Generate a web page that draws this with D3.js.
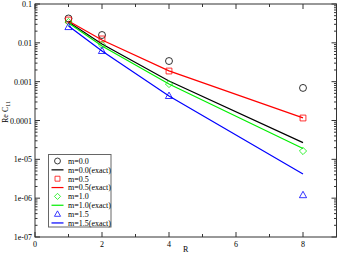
<!DOCTYPE html>
<html><head><meta charset="utf-8">
<script src="https://cdn.jsdelivr.net/npm/d3@7"></script>
<style>body{margin:0;background:#fff;}svg{display:block;}</style>
</head><body>
<svg id="c" width="338" height="255"></svg>
<script>
const R = [1, 2, 4, 8];
const sym_m00 = [0.0424, 0.0159, 0.0034, 0.00069];
const sym_m05 = [0.0387, 0.0126, 0.00188, 0.000116];
const sym_m10 = [0.0344, 0.0088, 0.00087, 1.64e-5];
const sym_m15 = [0.0256, 0.0062, 0.00043, 1.2e-6];
const exact_m00 = [0.0344, 0.0093, 0.00104, 2.7e-5];
const exact_m05 = [0.0365, 0.0118, 0.0019, 1.17e-4];
const exact_m10 = [0.0324, 0.0083, 0.00087, 1.9e-5];
const exact_m15 = [0.0271, 0.0062, 0.00043, 4.2e-6];
const xTicks = [0, 2, 4, 6, 8];
const yTicks = [0.1, 0.01, 0.001, 0.0001, 1e-5, 1e-6, 1e-7];
const yTickLabels = ["0.1", "0.01", "0.001", "0.0001", "1e-05", "1e-06", "1e-07"];
const legendLabels = ["m=0.0", "m=0.0(exact)", "m=0.5", "m=0.5(exact)", "m=1.0", "m=1.0(exact)", "m=1.5", "m=1.5(exact)"];
const colors = ["#000000", "#ff0000", "#00ee00", "#0000ff"];
const shapes = ["circle", "square", "diamond", "triangle"];

const svg = d3.select("#c");
const L = 35, Rt = 336.5, T = 4, B = 237;
const x = d3.scaleLinear().domain([0, 9]).range([L, Rt]);
const y = d3.scaleLog().domain([1e-7, 0.1]).range([B, T]);
const font = "Liberation Serif, Times New Roman, serif";

const symData = [sym_m00, sym_m05, sym_m10, sym_m15];
const exactData = [exact_m00, exact_m05, exact_m10, exact_m15];

function symPath(shape) {
  if (shape === "circle") return d3.symbol(d3.symbolCircle, 38)();
  if (shape === "square") return d3.symbol(d3.symbolSquare, 34)();
  if (shape === "diamond") return "M0,-3.6L3.6,0L0,3.6L-3.6,0Z";
  return "M0,-3.8L3.6,2.6L-3.6,2.6Z";
}

// frame
svg.append("rect").attr("x", L).attr("y", T).attr("width", Rt - L).attr("height", B - T)
  .attr("fill", "none").attr("stroke", "#333").attr("stroke-width", 1);

// x ticks
const xMinor = d3.range(1, 9, 2);
xTicks.forEach(v => {
  svg.append("line").attr("x1", x(v)).attr("x2", x(v)).attr("y1", B).attr("y2", B - 5).attr("stroke", "#333");
  svg.append("line").attr("x1", x(v)).attr("x2", x(v)).attr("y1", T).attr("y2", T + 5).attr("stroke", "#333");
  svg.append("text").attr("x", x(v)).attr("y", B + 10).attr("text-anchor", "middle")
    .attr("font-family", font).attr("font-size", 8).text(v);
});
xMinor.forEach(v => {
  svg.append("line").attr("x1", x(v)).attr("x2", x(v)).attr("y1", B).attr("y2", B - 3).attr("stroke", "#333");
  svg.append("line").attr("x1", x(v)).attr("x2", x(v)).attr("y1", T).attr("y2", T + 3).attr("stroke", "#333");
});

// y ticks
yTicks.forEach((v, i) => {
  svg.append("line").attr("x1", L).attr("x2", L + 5).attr("y1", y(v)).attr("y2", y(v)).attr("stroke", "#333");
  svg.append("line").attr("x1", Rt).attr("x2", Rt - 5).attr("y1", y(v)).attr("y2", y(v)).attr("stroke", "#333");
  svg.append("text").attr("x", L - 3).attr("y", y(v) + 3).attr("text-anchor", "end")
    .attr("font-family", font).attr("font-size", 8).text(yTickLabels[i]);
});
yTicks.slice(1).forEach(v => {
  for (let k = 2; k <= 9; k++) {
    const vv = v * k;
    svg.append("line").attr("x1", L).attr("x2", L + 2.5).attr("y1", y(vv)).attr("y2", y(vv)).attr("stroke", "#333");
    svg.append("line").attr("x1", Rt).attr("x2", Rt - 2.5).attr("y1", y(vv)).attr("y2", y(vv)).attr("stroke", "#333");
  }
});

// axis labels
svg.append("text").attr("x", x(4.5)).attr("y", 252).attr("text-anchor", "middle")
  .attr("font-family", font).attr("font-size", 8).text("R");
const yl = svg.append("text").attr("transform", "translate(7.5,112) rotate(-90)")
  .attr("text-anchor", "middle").attr("font-family", font).attr("font-size", 8);
yl.append("tspan").text("Re C");
yl.append("tspan").attr("font-size", 6).attr("dy", 2).text("11");

// lines
const line = d3.line().x((d, i) => x(R[i])).y(d => y(d));
exactData.forEach((arr, k) => {
  svg.append("path").attr("d", line(arr)).attr("fill", "none").attr("stroke", colors[k]).attr("stroke-width", 1.2);
});
// symbols
symData.forEach((arr, k) => {
  arr.forEach((v, i) => {
    svg.append("path").attr("d", symPath(shapes[k])).attr("transform", `translate(${x(R[i])},${y(v)})`)
      .attr("fill", "none").attr("stroke", colors[k]).attr("stroke-width", 0.8);
  });
});

// legend
const lg = svg.append("g");
lg.append("rect").attr("x", 48.5).attr("y", 154.5).attr("width", 62.5).attr("height", 72.5)
  .attr("fill", "#fff").attr("stroke", "#666").attr("stroke-width", 1);
legendLabels.forEach((t, i) => {
  const yy = 161 + i * 8.85;
  const k = Math.floor(i / 2);
  if (i % 2 === 0) {
    lg.append("path").attr("d", symPath(shapes[k])).attr("transform", `translate(57.5,${yy}) scale(0.85)`)
      .attr("fill", "none").attr("stroke", colors[k]).attr("stroke-width", 0.9);
  } else {
    lg.append("line").attr("x1", 51.5).attr("x2", 63.5).attr("y1", yy).attr("y2", yy)
      .attr("stroke", colors[k]).attr("stroke-width", 1.2);
  }
  lg.append("text").attr("x", 68).attr("y", yy + 2.8).attr("font-family", font).attr("font-size", 8).text(t);
});
</script>
</body></html>
